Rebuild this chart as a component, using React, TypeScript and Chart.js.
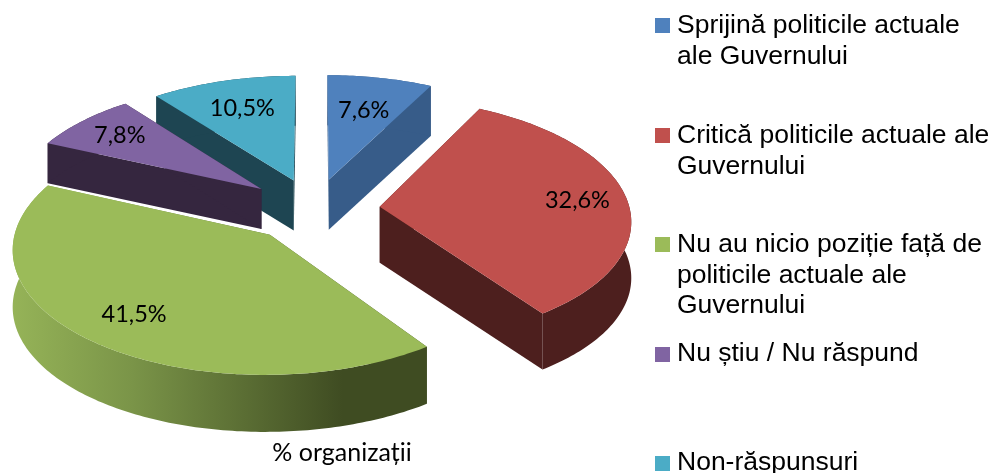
import React, { useEffect, useRef } from "react";
import { Chart, registerables } from "chart.js";

Chart.register(...registerables);

const categories = [
  ["Sprijină politicile actuale", "ale Guvernului"],
  ["Critică politicile actuale ale", "Guvernului"],
  ["Nu au nicio poziție față de", "politicile actuale ale", "Guvernului"],
  ["Nu știu / Nu răspund"],
  ["Non-răspunsuri"],
];
const values = [7.6, 32.6, 41.5, 7.8, 10.5];
const valueLabels = ["7,6%", "32,6%", "41,5%", "7,8%", "10,5%"];
const topColors = ["#4f81bd", "#c0504d", "#9bbb59", "#8064a2", "#4bacc6"];
const wallColors = ["#375c89", "#4d1f1e", "#5f7536", "#35263f", "#1e4552"];
const explodeOffsets = [64, 66, 68, 68, 64];
const xTitle = "% organizații";

// scene parameters of the tilted pie
const CX = 314, CY = 209, RADIUS = 250, TILT = 0.482, PERSP = 0.1;
const depths = [50, 56, 57, 40, 50];
const labelFractions = [0.66, 0.8, 0.77, 0.78, 0.71];
const drawOrder = [0, 4, 3, 1, 2];
const legendMarkerY = [18, 128, 237, 347, 456];
const legendBaselines = [33, 143, 252, 361, 470];
const LEGEND_LINE = 30.5;

function project(U: number, V: number) {
  const w = 1 / (1 - (PERSP * V) / RADIUS);
  return { x: CX + U * w, y: CY + TILT * V * w };
}

function pie3dPlugin() {
  return {
    id: "pie3d",
    beforeDatasetsDraw(chart: any) {
      const ctx: CanvasRenderingContext2D = chart.ctx;
      const meta = chart.getDatasetMeta(0);
      const outline = (arc: any) => {
        const { startAngle, endAngle } = arc.getProps(["startAngle", "endAngle"], true);
        const mid = (startAngle + endAngle) / 2;
        const d = arc.options.offset;
        const ox = d * Math.cos(mid), oy = d * Math.sin(mid);
        const pts: { x: number; y: number }[] = [];
        const n = Math.max(8, Math.ceil((endAngle - startAngle) * 60));
        for (let i = 0; i <= n; i++) {
          const a = startAngle + ((endAngle - startAngle) * i) / n;
          pts.push(project(ox + RADIUS * Math.cos(a), oy + RADIUS * Math.sin(a)));
        }
        return { apex: project(ox, oy), pts, mid, ox, oy };
      };
      const poly = (p: { x: number; y: number }[], fill: any) => {
        ctx.beginPath();
        p.forEach((q, i) => (i ? ctx.lineTo(q.x, q.y) : ctx.moveTo(q.x, q.y)));
        ctx.closePath();
        ctx.fillStyle = fill;
        ctx.fill();
      };
      const down = (p: { x: number; y: number }, h: number) => ({ x: p.x, y: p.y + h });

      drawOrder.forEach((i) => {
        const arc = meta.data[i];
        const { apex, pts } = outline(arc);
        const h = depths[i];
        let wallFill: any = wallColors[i];
        if (i === 2) {
          const g = ctx.createLinearGradient(10, 0, 360, 0);
          g.addColorStop(0, "#96b458");
          g.addColorStop(0.35, "#7a9448");
          g.addColorStop(0.95, "#3f4c22");
          g.addColorStop(1, "#3f4c22");
          wallFill = g;
        }
        const first = pts[0], last = pts[pts.length - 1];
        poly([apex, first, down(first, h), down(apex, h)], wallFill);
        poly([apex, last, down(last, h), down(apex, h)], wallFill);
        poly([...pts, ...pts.slice().reverse().map((p) => down(p, h))], wallFill);
        poly([apex, ...pts], arc.options.backgroundColor);
      });

      ctx.fillStyle = "#000";
      ctx.textAlign = "center";
      ctx.textBaseline = "middle";
      ctx.font = "23.5px Lato";
      meta.data.forEach((arc: any, i: number) => {
        const { mid, ox, oy } = outline(arc);
        const f = labelFractions[i] * RADIUS;
        const p = project(ox + f * Math.cos(mid), oy + f * Math.sin(mid));
        ctx.fillText(valueLabels[i], p.x, p.y);
      });
      ctx.font = "25px Lato";
      ctx.fillText(xTitle, 342, 453);

      ctx.textAlign = "left";
      ctx.textBaseline = "alphabetic";
      ctx.font = '26.5px "Liberation Sans"';
      categories.forEach((lines, i) => {
        ctx.fillStyle = topColors[i];
        ctx.fillRect(655, legendMarkerY[i], 15, 15);
        ctx.fillStyle = "#000";
        lines.forEach((t, j) => ctx.fillText(t, 677, legendBaselines[i] + j * LEGEND_LINE));
      });
      return false;
    },
  };
}

export default function App() {
  const ref = useRef<HTMLCanvasElement>(null);
  useEffect(() => {
    const chart = new Chart(ref.current!, {
      type: "pie",
      data: {
        labels: categories.map((c) => c.join(" ")),
        datasets: [{ data: values, backgroundColor: topColors, offset: explodeOffsets, borderWidth: 0 }],
      },
      options: {
        animation: false,
        responsive: false,
        plugins: { legend: { display: false }, tooltip: { enabled: false } },
      },
      plugins: [pie3dPlugin()],
    } as any);
    return () => chart.destroy();
  }, []);
  return (
    <div style={{ position: "fixed", left: 0, top: 0, width: 993, height: 473, background: "#fff" }}>
      <canvas ref={ref} width={993} height={473} style={{ display: "block" }} />
    </div>
  );
}
